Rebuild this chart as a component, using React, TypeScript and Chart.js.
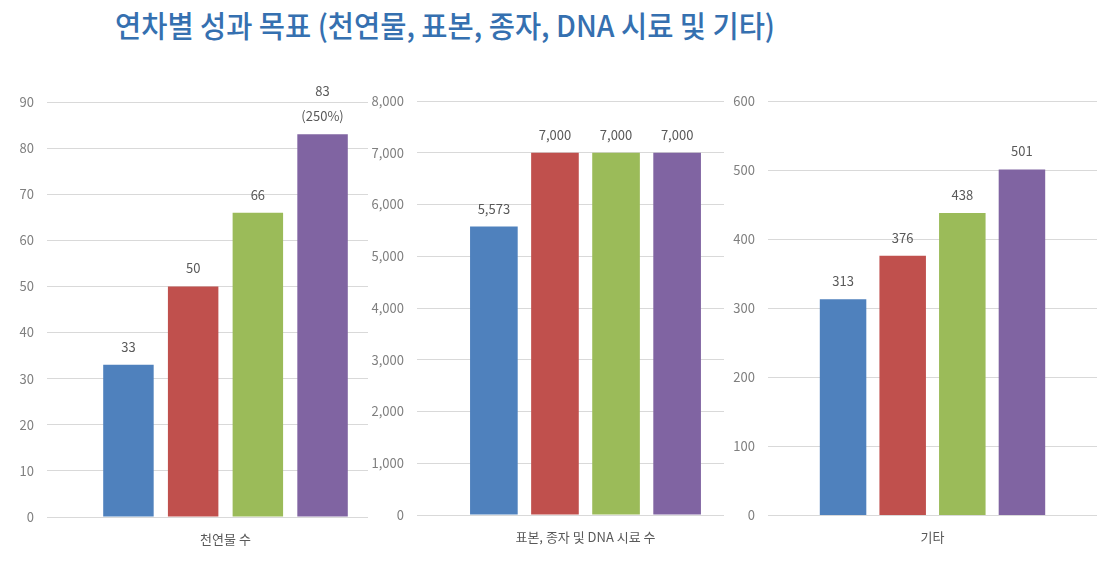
import React, { useEffect, useLayoutEffect, useRef } from "react";
import { Chart, registerables } from "chart.js";

Chart.register(...registerables);

// ---------- data ----------
const titleText = "연차별 성과 목표 (천연물, 표본, 종자, DNA 시료 및 기타)";
const seriesNames = ["1차년도", "2차년도", "3차년도", "4차년도"];
const seriesColors = ["#4f81bd", "#c0504d", "#9bbb59", "#8064a2"];

const naturalCategory = ["천연물 수"];
const naturalValues = [33, 50, 66, 83];
const naturalNotes = ["", "", "", "(250%)"];

const sampleCategory = ["표본, 종자 및 DNA 시료 수"];
const sampleValues = [5573, 7000, 7000, 7000];
const sampleNotes = ["", "", "", ""];

const otherCategory = ["기타"];
const otherValues = [313, 376, 438, 501];
const otherNotes = ["", "", "", ""];

const FONT = "'Noto Sans CJK KR', 'Noto Sans', sans-serif";
const fmt = (v: number) => v.toLocaleString("en-US");

const valueLabels = {
  id: "valueLabels",
  afterDatasetsDraw(chart: any, _args: any, opts: any) {
    const ctx = chart.ctx;
    ctx.save();
    ctx.font = `13px ${FONT}`;
    ctx.fillStyle = "#595959";
    ctx.textAlign = "center";
    ctx.textBaseline = "middle";
    chart.data.datasets.forEach((ds: any, di: number) => {
      const meta = chart.getDatasetMeta(di);
      meta.data.forEach((el: any, i: number) => {
        const lines = [fmt(ds.data[i])];
        const note = opts.notes ? opts.notes[di] : "";
        if (note) lines.push(note);
        const n = lines.length;
        lines.forEach((t, k) => {
          ctx.fillText(t, el.x, el.y - 18 - (n - 1 - k) * 25);
        });
      });
    });
    ctx.restore();
  },
};

const whiteBg = {
  id: "whiteBg",
  beforeDraw(chart: any, _a: any, opts: any) {
    if (!opts.enabled) return;
    const ctx = chart.ctx;
    ctx.save();
    ctx.fillStyle = "#ffffff";
    ctx.fillRect(0, 0, chart.width, chart.height);
    ctx.restore();
  },
};

type PanelProps = {
  left: number;
  width: number;
  yWidth: number;
  padTop: number;
  padBottom: number;
  padRight: number;
  categories: string[];
  values: number[];
  notes: string[];
  max: number;
  step: number;
  bg: boolean;
};

const TOP = 60;
const HEIGHT = 518;

function Panel(p: PanelProps) {
  const ref = useRef<HTMLCanvasElement>(null);
  useEffect(() => {
    const chart = new Chart(ref.current!, {
      type: "bar",
      data: {
        labels: p.categories,
        datasets: seriesNames.map((name, i) => ({
          label: name,
          data: [p.values[i]],
          backgroundColor: seriesColors[i],
          borderWidth: 0,
          categoryPercentage: 0.725,
          barPercentage: 0.78,
        })),
      },
      options: {
        responsive: false,
        animation: false,
        layout: { padding: { top: p.padTop, bottom: p.padBottom, left: 0, right: p.padRight } },
        plugins: {
          legend: { display: false },
          tooltip: { enabled: false },
          title: { display: false },
          valueLabels: { notes: p.notes },
          whiteBg: { enabled: p.bg },
        } as any,
        scales: {
          x: {
            grid: { display: false },
            border: { display: false },
            ticks: { color: "#595959", font: { size: 13, family: FONT }, padding: 6 },
            afterFit: (s: any) => {
              s.height = 40;
            },
          },
          y: {
            min: 0,
            max: p.max,
            grid: { color: "#d9d9d9", drawTicks: false, lineWidth: 1 },
            border: { display: false },
            ticks: {
              stepSize: p.step,
              color: "#7f7f7f",
              font: { size: 13, family: FONT },
              padding: 13,
              callback: (v: any) => fmt(Number(v)),
            },
            afterFit: (s: any) => {
              s.width = p.yWidth;
            },
          },
        },
      },
      plugins: [whiteBg, valueLabels],
    });
    return () => chart.destroy();
  }, []);
  return (
    <canvas
      ref={ref}
      width={p.width}
      height={HEIGHT}
      style={{ position: "absolute", left: p.left, top: TOP, width: p.width, height: HEIGHT }}
    />
  );
}

export default function App() {
  const titleRef = useRef<HTMLDivElement>(null);
  useLayoutEffect(() => {
    const el = titleRef.current!;
    const w = el.scrollWidth;
    el.style.transform = `scaleX(${660 / w})`;
  }, []);
  return (
    <div style={{ position: "absolute", left: 0, top: 0, width: 1109, height: 578, background: "#fff", overflow: "hidden" }}>
      <Panel left={0} width={410} yWidth={47} padTop={42} padBottom={21} padRight={6}
        categories={naturalCategory} values={naturalValues} notes={naturalNotes} max={90} step={10} bg={false} />
      <Panel left={368} width={386} yWidth={49} padTop={41} padBottom={23} padRight={0}
        categories={sampleCategory} values={sampleValues} notes={sampleNotes} max={8000} step={1000} bg={true} />
      <Panel left={724} width={385} yWidth={44} padTop={41} padBottom={22.5} padRight={12}
        categories={otherCategory} values={otherValues} notes={otherNotes} max={600} step={100} bg={true} />
      <div
        ref={titleRef}
        style={{
          position: "absolute",
          left: 115,
          top: 2,
          whiteSpace: "nowrap",
          display: "inline-block",
          fontFamily: FONT,
          fontSize: 30,
          fontWeight: 500,
          color: "#3570b0",
          transformOrigin: "left top",
          lineHeight: "44px",
        }}
      >
        {titleText}
      </div>
    </div>
  );
}
